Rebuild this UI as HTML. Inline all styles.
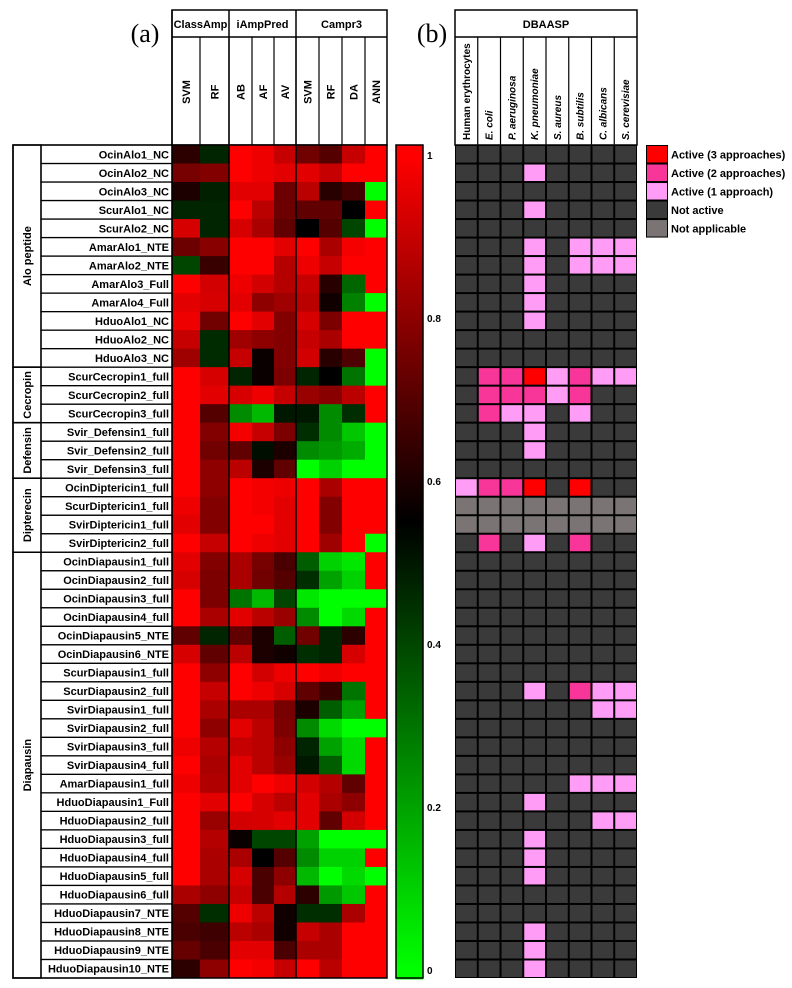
<!DOCTYPE html>
<html><head><meta charset="utf-8">
<style>
html,body{margin:0;padding:0;background:#fff;}
svg{display:block;font-family:"Liberation Sans",Arial,sans-serif;}
</style></head>
<body>
<svg id="fig" width="792" height="988" viewBox="0 0 792 988" xmlns="http://www.w3.org/2000/svg"></svg>
<script>
const rowNames=["OcinAlo1_NC","OcinAlo2_NC","OcinAlo3_NC","ScurAlo1_NC","ScurAlo2_NC","AmarAlo1_NTE","AmarAlo2_NTE","AmarAlo3_Full","AmarAlo4_Full","HduoAlo1_NC","HduoAlo2_NC","HduoAlo3_NC",
"ScurCecropin1_full","ScurCecropin2_full","ScurCecropin3_full","Svir_Defensin1_full","Svir_Defensin2_full","Svir_Defensin3_full",
"OcinDiptericin1_full","ScurDiptericin1_full","SvirDiptericin1_full","SvirDiptericin2_full",
"OcinDiapausin1_full","OcinDiapausin2_full","OcinDiapausin3_full","OcinDiapausin4_full","OcinDiapausin5_NTE","OcinDiapausin6_NTE",
"ScurDiapausin1_full","ScurDiapausin2_full","SvirDiapausin1_full","SvirDiapausin2_full","SvirDiapausin3_full","SvirDiapausin4_full",
"AmarDiapausin1_full","HduoDiapausin1_Full","HduoDiapausin2_full","HduoDiapausin3_full","HduoDiapausin4_full","HduoDiapausin5_full",
"HduoDiapausin6_full","HduoDiapausin7_NTE","HduoDiapausin8_NTE","HduoDiapausin9_NTE","HduoDiapausin10_NTE"];
const groupNames=["Alo peptide","Cecropin","Defensin","Dipterecin","Diapausin"];
const groupSizes=[12,3,3,4,23];
const toolNames=["ClassAmp","iAmpPred","Campr3"];
const toolSizes=[2,3,4];
const methodNames=["SVM","RF","AB","AF","AV","SVM","RF","DA","ANN"];
const heatRows=[
[.63,.47,1,.97,.9,.75,.7,.9,1],
[.76,.78,1,.97,.95,.95,.9,1,1],
[.6,.48,.95,.95,.74,.88,.62,.67,0],
[.47,.47,1,.88,.74,.72,.72,.55,1],
[.93,.47,.93,.85,.72,.55,.7,.4,0],
[.74,.79,1,1,.95,1,.85,.98,1],
[.4,.65,1,1,.87,.97,.9,1,1],
[1,.92,.97,.92,.87,.9,.62,.33,1],
[.95,.93,.95,.8,.83,.88,.58,.27,0],
[.97,.75,1,.95,.78,.93,.77,1,1],
[.9,.46,.83,.8,.78,.9,.85,1,1],
[.83,.46,.9,.57,.78,.92,.62,.69,0],
[1,.93,.47,.57,.77,.47,.55,.3,0],
[1,.95,.93,.97,.9,.82,.79,.88,1],
[1,.7,.25,.15,.5,.5,.25,.45,1],
[1,.78,.98,.9,.77,.45,.25,.12,0],
[1,.75,.72,.52,.6,.25,.22,.18,0],
[1,.8,.88,.6,.72,0,.1,0,0],
[1,.8,1,.98,.97,1,.85,1,1],
[.97,.78,1,.98,.95,1,.78,1,1],
[.95,.78,1,1,.95,1,.78,1,1],
[1,.9,1,.97,.95,1,.83,1,0],
[.95,.78,.85,.76,.68,.35,.1,.05,1],
[.93,.77,.85,.75,.7,.45,.2,.1,1],
[1,.77,.3,.15,.4,.05,0,0,0],
[1,.85,.95,.88,.82,.25,0,.08,1],
[.72,.47,.72,.6,.35,.75,.47,.63,1],
[.93,.72,.88,.6,.58,.45,.47,.93,1],
[1,.8,1,.92,.97,1,.97,1,1],
[1,.9,1,.97,.93,.72,.65,.3,1],
[1,.85,.85,.85,.76,.6,.35,.2,1],
[1,.8,.95,.88,.77,.25,.08,0,0],
[.97,.87,.9,.88,.8,.47,.2,.08,1],
[1,.85,.95,.88,.82,.5,.35,.08,1],
[.97,.86,.95,1,.97,.92,.87,.72,1],
[1,.95,1,.93,.88,.95,.85,.8,1],
[1,.82,.92,.93,.95,.95,.72,.92,1],
[1,.87,.57,.4,.4,.2,0,0,0],
[1,.85,.85,.55,.7,.25,.1,.1,1],
[1,.85,.93,.68,.8,.15,0,.08,0],
[.85,.8,.9,.68,.87,.63,.22,.12,1],
[.7,.45,.97,.88,.58,.45,.45,.85,1],
[.68,.66,.88,.85,.58,.9,.85,1,1],
[.73,.68,.95,.95,.68,.85,.85,1,1],
[.63,.8,1,.98,.9,1,.88,1,1]];
const colorbarTicks=[1,0.8,0.6,0.4,0.2,0];
const organisms=["Human erythrocytes","E. coli","P. aeruginosa","K. pneumoniae","S. aureus","B. subtilis","C. albicans","S. cerevisiae"];
const dbaaspRows=["00000000","00010000","00000000","00010000","00000000","00010111","00010111","00010000","00010000","00010000","00000000","00000000",
"02231211","02221200","02110100","00010000","00010000","00000000",
"12230300","99999999","99999999","02010200",
"00000000","00000000","00000000","00000000","00000000","00000000",
"00000000","00010211","00000011","00000000","00000000","00000000",
"00000111","00010000","00000011","00010000","00010000","00010000","00000000","00000000","00010000","00010000","00010000"];
const legendLabels=["Active (3 approaches)","Active (2 approaches)","Active (1 approach)","Not active","Not applicable"];
const legendCodes=["3","2","1","0","9"];

const svg=document.getElementById('fig');
const NS="http://www.w3.org/2000/svg";
function mk(tag,attrs,parent){const e=document.createElementNS(NS,tag);for(const k in attrs)e.setAttribute(k,attrs[k]);(parent||svg).appendChild(e);return e;}
const Y0=145,Y1=978,RH=(Y1-Y0)/rowNames.length;
function rowY(i){return Y0+i*RH;}
const colEdges=[172,200,229,252,274,296,319,342,365,387];
function colX(j){return colEdges[j];}
const M=0.55;
function heatColor(v){
  if(v>=M){const r=Math.round(255*Math.min(1,(v-M)/(1-M)));return `rgb(${r},0,0)`;}
  const g=Math.round(255*Math.min(1,(M-v)/M));return `rgb(0,${g},0)`;
}
const CB0=155,CB1=970;
function valY(v){return CB0+(1-v)*(CB1-CB0);}
const stateColors={"0":"#3a3a3a","1":"#ff9cf6","2":"#f83599","3":"#ff0000","9":"#7a7474"};
const RX0=455,RX1=637,RCW=(RX1-RX0)/organisms.length;
function rColX(j){return RX0+j*RCW;}

let t=mk('text',{x:145,y:42,'font-family':'"Liberation Serif",serif','font-size':26,'text-anchor':'middle'});t.textContent='(a)';

t=mk('text',{x:432,y:42,'font-family':'"Liberation Serif",serif','font-size':26,'text-anchor':'middle'});t.textContent='(b)';


const hdr=mk('g',{});

mk('rect',{x:172,y:10,width:215,height:135,fill:'#fff',stroke:'#000','stroke-width':1.5},hdr);
mk('line',{x1:172,y1:37,x2:387,y2:37,stroke:'#000','stroke-width':1.5},hdr);
let ci=0;
toolNames.forEach((nm,k)=>{
  const xa=colX(ci),xb=colX(ci+toolSizes[k]);
  mk('line',{x1:xa,y1:10,x2:xa,y2:145,stroke:'#000','stroke-width':1.5},hdr);
  const tt=mk('text',{x:(xa+xb)/2,y:28,'font-size':11,'font-weight':'bold','text-anchor':'middle'},hdr);tt.textContent=nm;
  
  ci+=toolSizes[k];
});
methodNames.forEach((nm,j)=>{
  const xa=colX(j),xb=colX(j+1),cx=(xa+xb)/2;
  if(j>0)mk('line',{x1:xa,y1:37,x2:xa,y2:145,stroke:'#000','stroke-width':1.2},hdr);
  const tt=mk('text',{x:cx+4,y:92,'font-size':11,'font-weight':'bold','text-anchor':'middle',transform:`rotate(-90 ${cx+4} 92)`},hdr);tt.textContent=nm;
  
});

const hm=mk('g',{});

heatRows.forEach((row,i)=>{
  row.forEach((v,j)=>{
    const r=mk('rect',{x:colX(j),y:rowY(i),width:colX(j+1)-colX(j)+0.5,height:RH+0.5,fill:heatColor(v)},hm);
    
  });
});
[229,296].forEach(x=>mk('line',{x1:x,y1:Y0,x2:x,y2:Y1,stroke:'#000','stroke-width':1.5},hm));
mk('rect',{x:172,y:Y0,width:215,height:Y1-Y0,fill:'none',stroke:'#000','stroke-width':1.5},hm);

const lab=mk('g',{});

mk('rect',{x:13,y:Y0,width:159,height:Y1-Y0,fill:'#fff',stroke:'#000','stroke-width':1.5},lab);
rowNames.forEach((nm,i)=>{
  mk('rect',{x:41,y:rowY(i),width:131,height:RH,fill:'none',stroke:'#000','stroke-width':1.2},lab);
  const tt=mk('text',{x:169,y:rowY(i)+RH/2+4,'font-size':11,'font-weight':'bold','text-anchor':'end'},lab);tt.textContent=nm;
  
});
let gi=0;
groupNames.forEach((nm,k)=>{
  const ya=rowY(gi),yb=rowY(gi+groupSizes[k]),cy=(ya+yb)/2;
  mk('rect',{x:13,y:ya,width:28,height:yb-ya,fill:'none',stroke:'#000','stroke-width':1.5},lab);
  const tt=mk('text',{x:31,y:cy,'font-size':11,'font-weight':'bold','text-anchor':'middle',transform:`rotate(-90 31 ${cy})`},lab);tt.textContent=nm;
  
  gi+=groupSizes[k];
});

const cb=mk('g',{});

for(let y=Y0;y<Y1;y+=2){
  const v=1-(y+1-CB0)/(CB1-CB0);
  mk('rect',{x:396,y:y,width:27,height:2.5,fill:heatColor(Math.max(0,Math.min(1,v)))},cb);
}
mk('rect',{x:396,y:Y0,width:27,height:Y1-Y0,fill:'none',stroke:'#000','stroke-width':1.5},cb);
colorbarTicks.forEach(v=>{
  const tt=mk('text',{x:427,y:valY(v)+4,'font-size':10,'font-weight':'bold'},cb);tt.textContent=String(v);
  
});

const rh=mk('g',{});

mk('rect',{x:RX0,y:10,width:RX1-RX0,height:135,fill:'#fff',stroke:'#000','stroke-width':1.5},rh);
mk('line',{x1:RX0,y1:37,x2:RX1,y2:37,stroke:'#000','stroke-width':1.5},rh);
t=mk('text',{x:(RX0+RX1)/2,y:28,'font-size':11,'font-weight':'bold','text-anchor':'middle'},rh);t.textContent='DBAASP';

organisms.forEach((nm,j)=>{
  const xa=rColX(j),cx=xa+RCW/2+3.5;
  if(j>0)mk('line',{x1:xa,y1:37,x2:xa,y2:145,stroke:'#000','stroke-width':1.2},rh);
  const tt=mk('text',{x:cx,y:140,'font-size':10,'font-weight':'bold','font-style':j>0?'italic':'normal',transform:`rotate(-90 ${cx} 140)`},rh);tt.textContent=nm;
  
});

const rg=mk('g',{});

mk('rect',{x:RX0,y:Y0,width:RX1-RX0,height:Y1-Y0,fill:'#000'},rg);
dbaaspRows.forEach((s,i)=>{
  for(let j=0;j<organisms.length;j++){
    const r=mk('rect',{x:rColX(j)+1,y:rowY(i)+1,width:RCW-2,height:RH-2,fill:stateColors[s[j]]},rg);
    
  }
});

const lg=mk('g',{});

mk('rect',{x:646,y:Y0,width:22,height:RH*5,fill:'#000'},lg);
legendLabels.forEach((nm,k)=>{
  const y=Y0+k*RH;
  mk('rect',{x:647,y:y+1,width:20,height:RH-2,fill:stateColors[legendCodes[k]]},lg);
  const tt=mk('text',{x:671,y:y+RH/2+4,'font-size':11,'font-weight':'bold'},lg);tt.textContent=nm;
  
});
</script>
</body></html>
